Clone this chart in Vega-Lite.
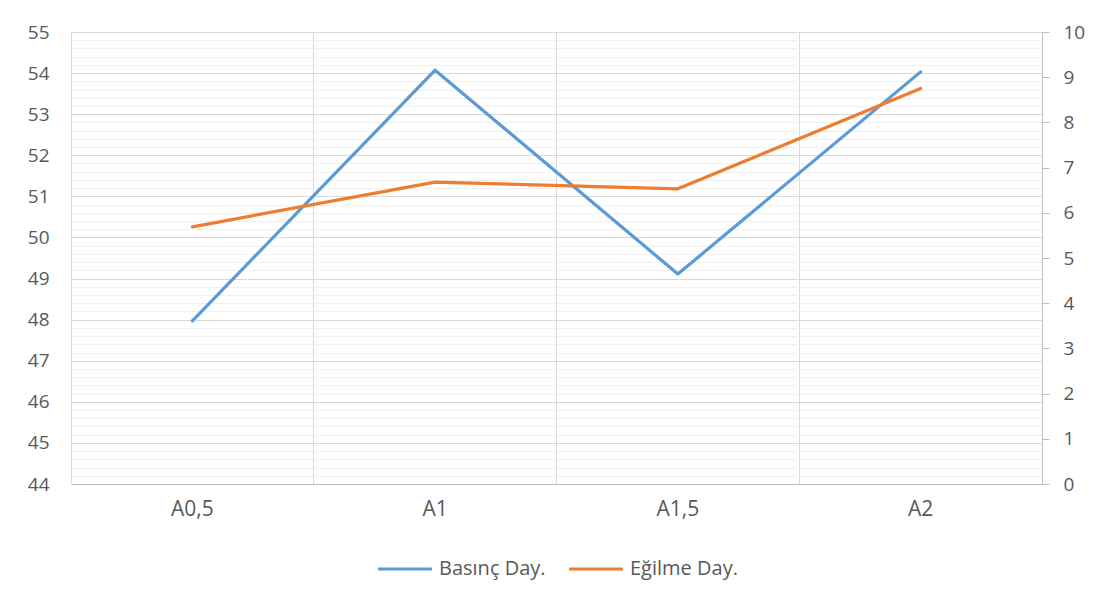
{
  "$schema": "https://vega.github.io/schema/vega-lite/v6.json",
  "width": 971,
  "height": 452,
  "autosize": {"type": "none"},
  "padding": {"left": 71, "top": 32, "right": 65, "bottom": 121},
  "background": "white",
  "config": {
    "font": "Open Sans",
    "view": {"stroke": null},
    "axis": {"labelColor": "#595959", "labelFont": "Open Sans", "title": null},
    "legend": {"labelFont": "Open Sans"}
  },
  "datasets": {
    "basinc": [
      {"numune": "A0,5", "seri": "Basınç Day.", "deger": 47.97},
      {"numune": "A1", "seri": "Basınç Day.", "deger": 54.07},
      {"numune": "A1,5", "seri": "Basınç Day.", "deger": 49.11},
      {"numune": "A2", "seri": "Basınç Day.", "deger": 54.03}
    ],
    "egilme": [
      {"numune": "A0,5", "seri": "Eğilme Day.", "deger": 5.69},
      {"numune": "A1", "seri": "Eğilme Day.", "deger": 6.68},
      {"numune": "A1,5", "seri": "Eğilme Day.", "deger": 6.53},
      {"numune": "A2", "seri": "Eğilme Day.", "deger": 8.75}
    ]
  },
  "layer": [
    {
      "data": {"name": "basinc"},
      "mark": {"type": "line", "strokeWidth": 3.2, "strokeCap": "round", "strokeJoin": "round"},
      "encoding": {
        "x": {
          "field": "numune",
          "type": "nominal",
          "sort": null,
          "scale": {"type": "band", "paddingInner": 0, "paddingOuter": 0},
          "axis": {
            "labelAngle": 0,
            "labelFontSize": 21,
            "labelPadding": 14,
            "grid": false,
            "ticks": false,
            "domainColor": "#bfbfbf",
            "domainWidth": 1
          }
        },
        "y": {
          "field": "deger",
          "type": "quantitative",
          "scale": {"domain": [44, 55], "nice": false, "zero": false},
          "axis": {
            "values": [44, 44.2, 44.4, 44.6, 44.8, 45, 45.2, 45.4, 45.6, 45.8, 46, 46.2, 46.4, 46.6, 46.8, 47, 47.2, 47.4, 47.6, 47.8, 48, 48.2, 48.4, 48.6, 48.8, 49, 49.2, 49.4, 49.6, 49.8, 50, 50.2, 50.4, 50.6, 50.8, 51, 51.2, 51.4, 51.6, 51.8, 52, 52.2, 52.4, 52.6, 52.8, 53, 53.2, 53.4, 53.6, 53.8, 54, 54.2, 54.4, 54.6, 54.8, 55],
            "grid": true,
            "gridColor": {"condition": {"test": "datum.value % 1 === 0", "value": "#d9d9d9"}, "value": "#f0f0f0"},
            "gridWidth": 1,
            "labelExpr": "datum.value % 1 === 0 ? format(datum.value, 'd') : ''",
            "labelOverlap": false,
            "labelFontSize": 19,
            "labelPadding": 22,
            "ticks": false,
            "domainColor": "#d9d9d9"
          }
        },
        "color": {
          "field": "seri",
          "type": "nominal",
          "scale": {"domain": ["Basınç Day.", "Eğilme Day."], "range": ["#5b9bd5", "#ed7d31"]},
          "legend": {
            "orient": "none",
            "legendX": 305,
            "legendY": 508,
            "direction": "horizontal",
            "title": null,
            "symbolType": "stroke",
            "symbolSize": 2900,
            "symbolStrokeWidth": 3.2,
            "labelFontSize": 20,
            "labelColor": "#595959",
            "labelOffset": 5,
            "columnPadding": 16,
            "padding": 0
          }
        }
      }
    },
    {
      "data": {"name": "egilme"},
      "mark": {"type": "line", "strokeWidth": 3.2, "strokeCap": "round", "strokeJoin": "round"},
      "encoding": {
        "x": {
          "field": "numune",
          "type": "nominal",
          "sort": null,
          "scale": {"type": "band", "paddingInner": 0, "paddingOuter": 0},
          "axis": {
            "bandPosition": 0,
            "grid": true,
            "gridColor": "#d9d9d9",
            "labels": false,
            "ticks": false,
            "domain": false
          }
        },
        "y": {
          "field": "deger",
          "type": "quantitative",
          "scale": {"domain": [0, 10], "nice": false},
          "axis": {
            "orient": "right",
            "values": [0, 1, 2, 3, 4, 5, 6, 7, 8, 9, 10],
            "grid": false,
            "ticks": true,
            "tickColor": "#bfbfbf",
            "tickSize": 7,
            "domainColor": "#bfbfbf",
            "labelFontSize": 19,
            "labelPadding": 14
          }
        },
        "color": {"field": "seri", "type": "nominal"}
      }
    }
  ],
  "resolve": {"scale": {"y": "independent"}, "axis": {"x": "independent"}}
}
